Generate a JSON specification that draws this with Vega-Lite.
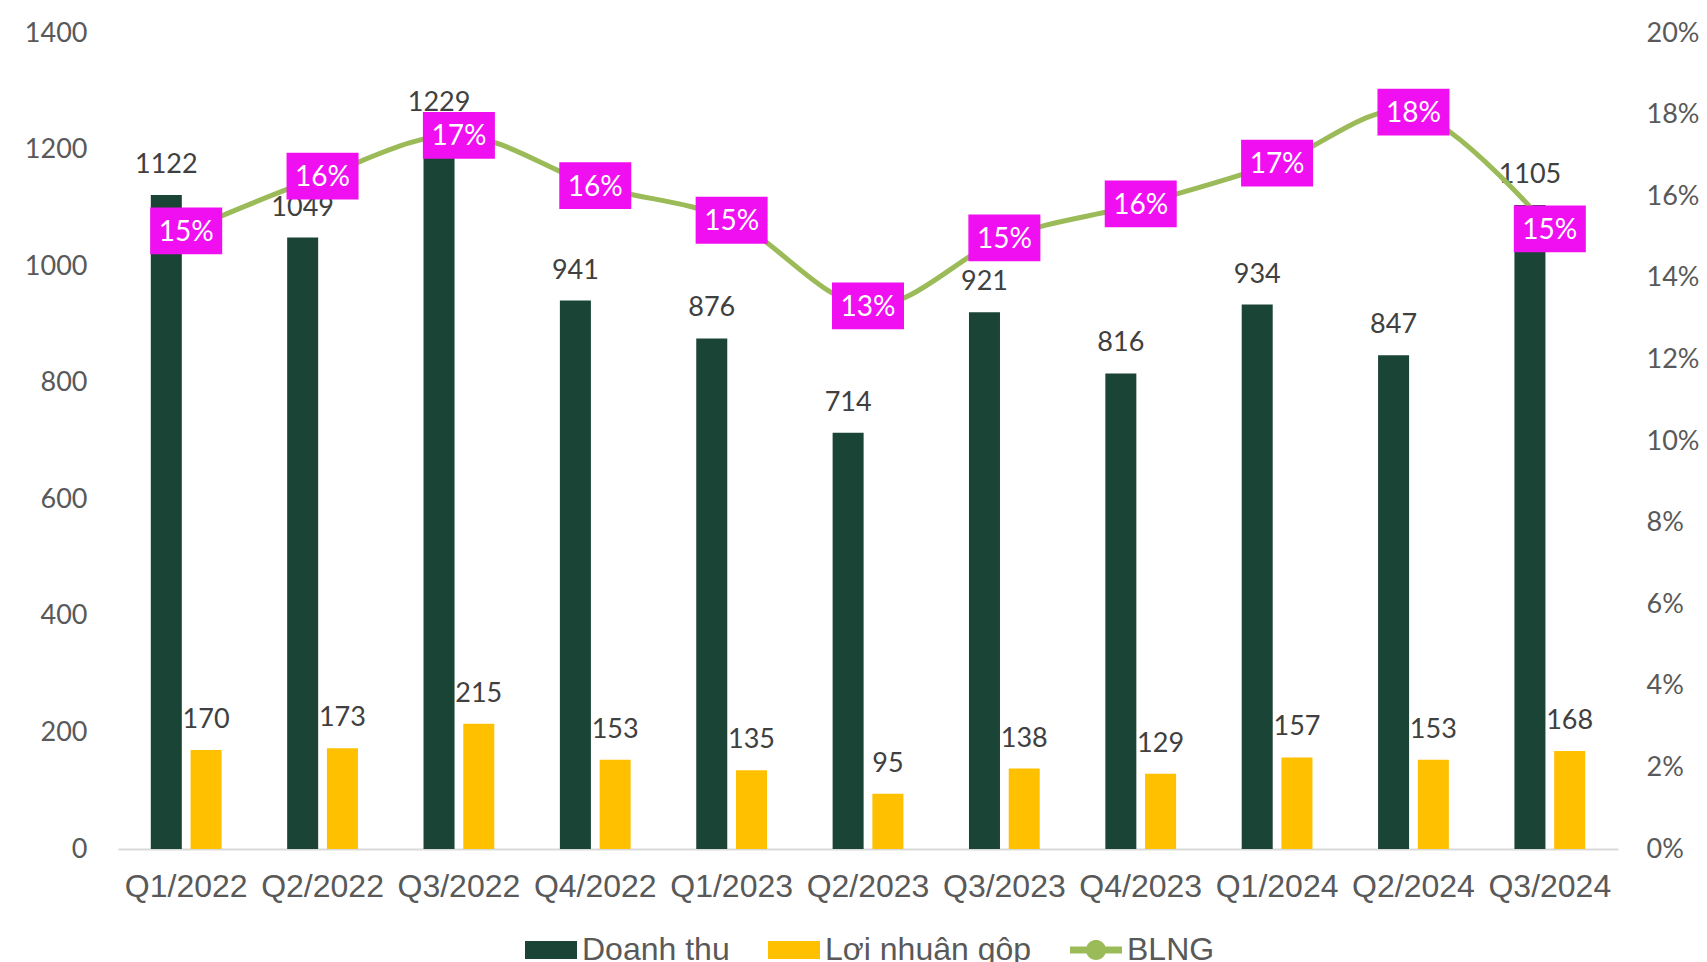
{
  "$schema": "https://vega.github.io/schema/vega-lite/v6.json",
  "autosize": {"type": "none"},
  "width": 1500,
  "height": 816,
  "padding": {"left": 118, "top": 33, "right": 89, "bottom": 113},
  "background": "white",
  "config": {"view": {"stroke": null}},
  "datasets": {
    "bars": [
      {"q": "Q1/2022", "series": "Doanh thu", "value": 1122},
      {"q": "Q1/2022", "series": "Lợi nhuận gộp", "value": 170},
      {"q": "Q2/2022", "series": "Doanh thu", "value": 1049},
      {"q": "Q2/2022", "series": "Lợi nhuận gộp", "value": 173},
      {"q": "Q3/2022", "series": "Doanh thu", "value": 1229},
      {"q": "Q3/2022", "series": "Lợi nhuận gộp", "value": 215},
      {"q": "Q4/2022", "series": "Doanh thu", "value": 941},
      {"q": "Q4/2022", "series": "Lợi nhuận gộp", "value": 153},
      {"q": "Q1/2023", "series": "Doanh thu", "value": 876},
      {"q": "Q1/2023", "series": "Lợi nhuận gộp", "value": 135},
      {"q": "Q2/2023", "series": "Doanh thu", "value": 714},
      {"q": "Q2/2023", "series": "Lợi nhuận gộp", "value": 95},
      {"q": "Q3/2023", "series": "Doanh thu", "value": 921},
      {"q": "Q3/2023", "series": "Lợi nhuận gộp", "value": 138},
      {"q": "Q4/2023", "series": "Doanh thu", "value": 816},
      {"q": "Q4/2023", "series": "Lợi nhuận gộp", "value": 129},
      {"q": "Q1/2024", "series": "Doanh thu", "value": 934},
      {"q": "Q1/2024", "series": "Lợi nhuận gộp", "value": 157},
      {"q": "Q2/2024", "series": "Doanh thu", "value": 847},
      {"q": "Q2/2024", "series": "Lợi nhuận gộp", "value": 153},
      {"q": "Q3/2024", "series": "Doanh thu", "value": 1105},
      {"q": "Q3/2024", "series": "Lợi nhuận gộp", "value": 168}
    ],
    "blng": [
      {"q": "Q1/2022", "series": "BLNG", "pct": 0.1515},
      {"q": "Q2/2022", "series": "BLNG", "pct": 0.1649},
      {"q": "Q3/2022", "series": "BLNG", "pct": 0.1749},
      {"q": "Q4/2022", "series": "BLNG", "pct": 0.1626},
      {"q": "Q1/2023", "series": "BLNG", "pct": 0.1541},
      {"q": "Q2/2023", "series": "BLNG", "pct": 0.1331},
      {"q": "Q3/2023", "series": "BLNG", "pct": 0.1498},
      {"q": "Q4/2023", "series": "BLNG", "pct": 0.1581},
      {"q": "Q1/2024", "series": "BLNG", "pct": 0.1681},
      {"q": "Q2/2024", "series": "BLNG", "pct": 0.1806},
      {"q": "Q3/2024", "series": "BLNG", "pct": 0.1520}
    ]
  },
  "encoding": {
    "x": {
      "field": "q",
      "type": "nominal",
      "sort": null,
      "scale": {"paddingInner": 0.481, "paddingOuter": 0.2405},
      "axis": {
        "title": null,
        "labelAngle": 0,
        "ticks": false,
        "tickSize": 0,
        "labelPadding": 22,
        "labelFont": "Liberation Sans",
        "labelFontSize": 32,
        "labelColor": "#595959",
        "domainColor": "#D9D9D9",
        "domainWidth": 2,
        "grid": false
      }
    }
  },
  "layer": [
    {
      "data": {"name": "bars"},
      "mark": {"type": "bar"},
      "encoding": {
        "xOffset": {"field": "series", "type": "nominal", "sort": ["Doanh thu", "Lợi nhuận gộp"], "scale": {"paddingInner": 0.22, "paddingOuter": 0}},
        "y": {
          "field": "value",
          "type": "quantitative",
          "scale": {"domain": [0, 1400], "nice": false},
          "axis": {
            "title": null,
            "values": [0, 200, 400, 600, 800, 1000, 1200, 1400],
            "format": "d",
            "grid": false,
            "domain": false,
            "ticks": false,
            "tickSize": 0,
            "labelPadding": 31,
            "labelFont": "Lato",
            "labelFontSize": 27,
            "labelColor": "#595959"
          }
        },
        "color": {
          "field": "series",
          "type": "nominal",
          "scale": {"domain": ["Doanh thu", "Lợi nhuận gộp", "BLNG"], "range": ["#1A4435", "#FFC000", "#9BBB59"]},
          "legend": {
            "orient": "none",
            "legendX": 407,
            "legendY": 891,
            "direction": "horizontal",
            "title": null,
            "padding": 0,
            "symbolSize": 2704,
            "symbolStrokeWidth": 0,
            "labelFont": "Liberation Sans",
            "labelFontSize": 32,
            "labelColor": "#595959",
            "labelOffset": 5,
            "labelLimit": 400,
            "columnPadding": 38,
            "encode": {
              "symbols": {
                "update": {
                  "shape": {"signal": "datum.value === 'BLNG' ? 'M-1,-0.135H-0.36A0.385,0.385 0 0,1 0.36,-0.135H1V0.135H0.36A0.385,0.385 0 0,1 -0.36,0.135H-1Z' : 'M-1,-0.346H1V0.346H-1Z'"},
                  "fill": {"signal": "scale('color', datum.value)"},
                  "fillOpacity": {"value": 1},
                  "strokeWidth": {"value": 0},
                  "opacity": {"value": 1}
                }
              }
            }
          }
        }
      }
    },
    {
      "data": {"name": "bars"},
      "mark": {"type": "text", "font": "Lato", "fontSize": 27, "color": "#404040", "baseline": "middle", "dy": -30},
      "encoding": {
        "xOffset": {"field": "series", "type": "nominal", "sort": ["Doanh thu", "Lợi nhuận gộp"]},
        "y": {"field": "value", "type": "quantitative", "scale": {"domain": [0, 1400], "nice": false}, "axis": null},
        "text": {"field": "value", "type": "quantitative", "format": "d"}
      }
    },
    {
      "data": {"name": "blng"},
      "mark": {"type": "line", "interpolate": "cardinal", "strokeWidth": 5},
      "encoding": {
        "y": {
          "field": "pct",
          "type": "quantitative",
          "scale": {"domain": [0, 0.2], "nice": false},
          "axis": {
            "orient": "right",
            "title": null,
            "values": [0, 0.02, 0.04, 0.06, 0.08, 0.1, 0.12, 0.14, 0.16, 0.18, 0.2],
            "format": ".0%",
            "grid": false,
            "domain": false,
            "ticks": false,
            "tickSize": 0,
            "labelPadding": 28,
            "labelFont": "Lato",
            "labelFontSize": 27,
            "labelColor": "#595959"
          }
        },
        "color": {"field": "series", "type": "nominal"}
      }
    },
    {
      "data": {"name": "blng"},
      "mark": {"type": "point", "filled": true, "fill": "#F00FF0", "opacity": 1, "strokeWidth": 0, "size": 5184, "shape": "M-1,-0.65H1V0.65H-1Z"},
      "encoding": {
        "y": {"field": "pct", "type": "quantitative", "scale": {"domain": [0, 0.2], "nice": false}, "axis": null}
      }
    },
    {
      "data": {"name": "blng"},
      "mark": {"type": "text", "font": "Lato", "fontSize": 28, "color": "white", "baseline": "middle", "dy": 2},
      "encoding": {
        "y": {"field": "pct", "type": "quantitative", "scale": {"domain": [0, 0.2], "nice": false}, "axis": null},
        "text": {"field": "pct", "type": "quantitative", "format": ".0%"}
      }
    }
  ],
  "resolve": {"scale": {"y": "independent"}}
}
